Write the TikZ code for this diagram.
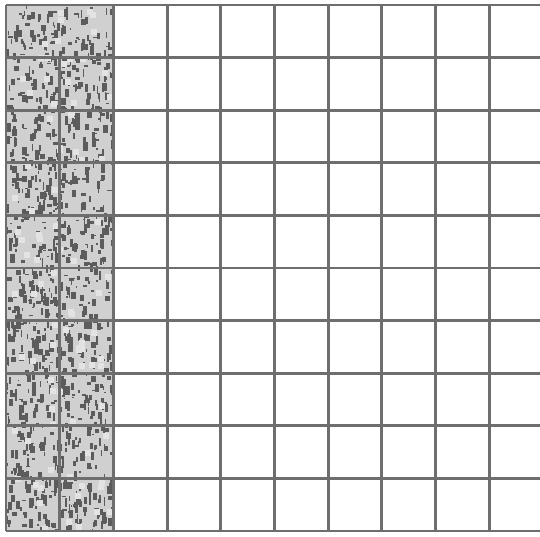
\documentclass[tikz,border=0pt]{standalone}
\usepackage{tikz}
\definecolor{trait}{HTML}{6E6E6E}
\definecolor{grain}{HTML}{D0D0D0}
\definecolor{tache}{HTML}{5C5C5C}
\tikzset{
  grille/.style={draw=trait, line width=2.9pt},
  fond/.style={fill=grain, draw=none},
  speck/.style={fill=tache, draw=none},
}
\begin{document}
\begin{tikzpicture}[x=1pt, y=-1pt]
        \useasboundingbox (0,0) rectangle (540,536);
        \clip (0,0) rectangle (540,536);
        \fill[white] (0,0) rectangle (540,536);
        % two shaded columns
        \begin{scope}
          \clip (6,5) rectangle (113,531);
          \fill[fond] (6,5) rectangle (113,531);
          \pgfmathsetseed{7}
          \foreach \k in {1,...,1100} {
            \pgfmathsetmacro{\rx}{6+106*rnd}
            \pgfmathsetmacro{\ry}{5+525*rnd}
            \pgfmathsetmacro{\rw}{1+4*rnd}
            \pgfmathsetmacro{\rh}{1+8*rnd}
            \fill[speck] (\rx,\ry) rectangle ++(\rw,\rh);
          }
          \foreach \k in {1,...,90} {
            \pgfmathsetmacro{\rx}{8+100*rnd}
            \pgfmathsetmacro{\ry}{8+518*rnd}
            \fill[grain!60!white] (\rx,\ry) rectangle ++(6,6);
          }
        \end{scope}
        % lines
        \foreach \j in {0,...,10}
          \draw[grille] (6,{5+52.6*\j}) -- (545,{5+52.6*\j});
        \foreach \i in {0,2,3,4,5,6,7,8,9,10}
          \draw[grille] ({6+53.7*\i},5) -- ({6+53.7*\i},531);
        \draw[grille] ({6+53.7},{5+52.6}) -- ({6+53.7},531);
      \end{tikzpicture}
\end{document}
